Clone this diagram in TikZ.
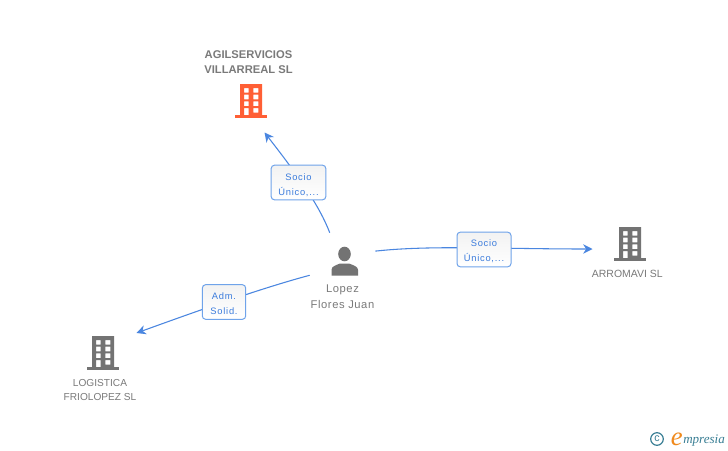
\documentclass[tikz,border=0pt]{standalone}
\usepackage{fontspec}
\setmainfont{Liberation Sans}
\newfontfamily\lblfont[LetterSpace=8]{Liberation Sans}
\newfontfamily\perfont[LetterSpace=5]{Liberation Sans}
\newfontfamily\logofont{Liberation Serif}
\usetikzlibrary{arrows.meta}
\definecolor{linkblue}{HTML}{4A86E0}
\definecolor{boxedge}{HTML}{6FA3EA}
\definecolor{lbltext}{HTML}{3A7BDC}
\definecolor{iconorange}{HTML}{FF5F35}
\definecolor{icongrey}{HTML}{737373}
\definecolor{nametext}{HTML}{7A7A7A}
\definecolor{logoteal}{HTML}{3A7F95}
\definecolor{logoorange}{HTML}{F08A1D}
\tikzset{
  x=0.75pt,y=-0.75pt,
  link/.style={draw=linkblue,line width=0.8pt,-{Stealth[length=7pt,width=7pt]}},
  relbox/.style={draw=boxedge,line width=0.75pt,rounded corners=2.5pt,top color=gray!10,bottom color=white,
    inner sep=0pt,align=center,text=lbltext,font=\lblfont\fontsize{7pt}{11.2pt}\selectfont},
  cname/.style={inner sep=0pt,align=center,text=nametext,font=\fontsize{7.85pt}{11.2pt}\selectfont},
  bname/.style={inner sep=0pt,align=center,text=nametext,font=\bfseries\fontsize{8.4pt}{11.2pt}\selectfont},
  pname/.style={inner sep=0pt,align=center,text=nametext,font=\perfont\fontsize{8.4pt}{12pt}\selectfont},
  anchorzone/.style={rectangle,inner sep=0pt,minimum width=48.75pt,minimum height=31.5pt},
  pics/bldg/.style={code={
    \fill[#1,even odd rule] (-11,0) rectangle (11,31)
      (-7,4) rectangle (-2.4,8.6) (2.4,4) rectangle (7.4,8.6)
      (-7,10.7) rectangle (-2.4,15.3) (2.4,10.7) rectangle (7.4,15.3)
      (-7,17.4) rectangle (-2.4,22) (2.4,17.4) rectangle (7.4,22)
      (-7,24) rectangle (-2.4,31) (2.4,24) rectangle (7.4,28.6);
    \fill[#1] (-16,30.7) rectangle (16,34);
  }}
}
\begin{document}
\begin{tikzpicture}
\useasboundingbox (0,0) rectangle (728,450);
\fill[white] (0,0) rectangle (728,450);

% icons
\pic at (251,84) {bldg=iconorange};
\pic at (630,227) {bldg=icongrey};
\pic at (103,336) {bldg=icongrey};
\fill[icongrey] (344.5,254) ellipse [x radius=6.3,y radius=7.3];
\fill[icongrey] (331.5,275.5) -- (331.5,270) .. controls (331.5,266.5) and (335,265.5) .. (340,263.5)
  -- (349,263.5) .. controls (354,265.5) and (358,266.5) .. (358,270) -- (358,275.5) -- cycle;

% anchors of the connectors
\node[anchorzone] (pers) at (342.5,254) {};
\coordinate (t1) at (264.5,132.5);
\coordinate (t2) at (592.5,249);
\coordinate (t3) at (136.5,333);

% connectors
\draw[link] (pers.121) .. controls (320,207) and (300,178) .. (t1);
\draw[link] (pers.5) .. controls (430,245) and (500,249) .. (t2);
\draw[link] (pers.south west) .. controls (262,288) and (200,310) .. (t3);

% relation labels
\node[relbox,minimum width=41pt,minimum height=26pt] (lab1) at (298.5,182.5) {\strut\\[-11.2pt]\raisebox{-0.9pt}{Socio}\\\raisebox{-0.9pt}{Único,...}};
\node[relbox,minimum width=40.5pt,minimum height=26pt] (lab2) at (484,249.5) {\strut\\[-11.2pt]\raisebox{0.5pt}{Socio}\\\raisebox{0.5pt}{Único,...}};
\node[relbox,minimum width=32.5pt,minimum height=26pt] (lab3) at (224,302) {\strut\\[-11.2pt]\raisebox{0.2pt}{Adm.}\\\raisebox{0.2pt}{Solid.}};

% names
\node[bname] (n1) at (248.5,62.5) {AGILSERVICIOS\\VILLARREAL SL};
\node[cname] (n2) at (627.3,273.5) {ARROMAVI SL};
\node[cname,font=\fontsize{7.6pt}{11.2pt}\selectfont] (n3) at (100,390) {LOGISTICA\\FRIOLOPEZ SL};
\node[pname] (n4) at (342.5,296.5) {Lopez\\Flores Juan};

% logo
\draw[logoteal,line width=0.9pt] (657,439) circle [radius=6.3];
\node[inner sep=0pt,text=logoteal,font=\fontsize{8pt}{8pt}\selectfont] (copy) at (657,438.6) {c};
\node[inner sep=0pt,anchor=base west,text=logoorange,font=\logofont\itshape\fontsize{20pt}{20pt}\selectfont] (loge) at (670.5,445) {e};
\node[inner sep=0pt,anchor=base west,text=logoteal,font=\logofont\itshape\fontsize{9.8pt}{9.8pt}\selectfont] (logw) at (683,443.5) {mpresia};
\end{tikzpicture}
\end{document}
